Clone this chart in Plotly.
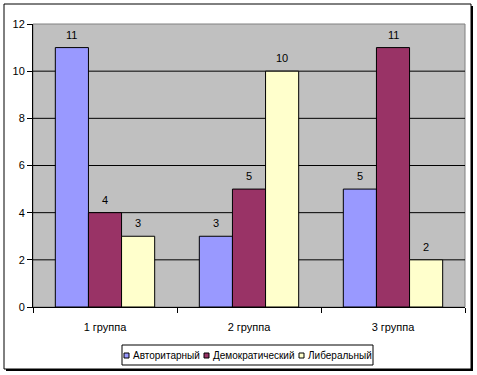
import plotly.graph_objects as go

categories = ["1 группа", "2 группа", "3 группа"]
series_names = ["Авторитарный", "Демократический", "Либеральный"]
avtoritarny = [11, 3, 5]
demokratichesky = [4, 5, 11]
liberalny = [3, 10, 2]
colors = ["#9999FF", "#993366", "#FFFFCC"]
y_ticks = [0, 2, 4, 6, 8, 10, 12]

W, H = 477, 375
L, R, T, B = 33, 12, 24, 68
pw, ph = W - L - R, H - T - B

def px(x):
    return (x - L) / pw

def py(y):
    return (H - B - y) / ph

bar_w = 0.23
offsets = [-1.5 * bar_w, -0.5 * bar_w, 0.5 * bar_w]

fig = go.Figure()
annotations = []
all_series = [avtoritarny, demokratichesky, liberalny]
for name, vals, col, off in zip(series_names, all_series, colors, offsets):
    fig.add_trace(go.Bar(
        x=categories, y=vals, name=name, width=bar_w, offset=off,
        marker=dict(color=col, line=dict(color="black", width=1)),
        showlegend=False,
    ))
    for i, v in enumerate(vals):
        annotations.append(dict(
            x=i + off + bar_w / 2, y=v, xref="x", yref="y", text=str(v),
            showarrow=False, yanchor="bottom", yshift=5,
            font=dict(size=11, color="black"),
        ))

shapes = [
    # outer frame with shadow
    dict(type="rect", xref="paper", yref="paper", x0=px(6), x1=px(473), y0=py(371), y1=py(6),
         line=dict(width=0), fillcolor="black", layer="below"),
    dict(type="rect", xref="paper", yref="paper", x0=px(4), x1=px(471), y0=py(369), y1=py(4),
         line=dict(color="black", width=1), fillcolor="white", layer="below"),
    # plot area
    dict(type="rect", xref="paper", yref="paper", x0=0, x1=1, y0=0, y1=1,
         line=dict(color="#808080", width=1), fillcolor="#C0C0C0", layer="below"),
]
for t in y_ticks[1:-1]:
    shapes.append(dict(type="line", xref="paper", yref="y", x0=0, x1=1, y0=t, y1=t,
                       line=dict(color="black", width=1), layer="below"))

# legend box (drawn manually, Excel style)
leg_x0, leg_x1, leg_y0, leg_y1 = 122, 373, 345, 365
shapes.append(dict(type="rect", xref="paper", yref="paper", x0=px(leg_x0), x1=px(leg_x1),
                   y0=py(leg_y1), y1=py(leg_y0), line=dict(color="black", width=1),
                   fillcolor="white"))
sq_x = [124, 204, 299]
txt_x = [131, 211, 306]
yc = (leg_y0 + leg_y1) / 2
for name, col, sx, tx in zip(series_names, colors, sq_x, txt_x):
    shapes.append(dict(type="rect", xref="paper", yref="paper", x0=px(sx), x1=px(sx + 5),
                       y0=py(yc + 3), y1=py(yc - 2), line=dict(color="black", width=1),
                       fillcolor=col))
    annotations.append(dict(x=px(tx), y=py(yc), xref="paper", yref="paper", text=name,
                            showarrow=False, xanchor="left", yanchor="middle",
                            font=dict(size=10, color="black")))

fig.update_layout(
    width=W, height=H,
    margin=dict(l=L, r=R, t=T, b=B, autoexpand=False),
    paper_bgcolor="white",
    plot_bgcolor="rgba(0,0,0,0)",
    font=dict(family="Liberation Sans, Arial, sans-serif", size=11, color="black"),
    barmode="overlay",
    showlegend=False,
    xaxis=dict(showline=True, linecolor="black", linewidth=1, ticks="outside",
               tickson="boundaries", ticklen=5, tickcolor="black", showgrid=False,
               tickfont=dict(size=11), ticklabelstandoff=10, range=[-0.5, 2.5]),
    yaxis=dict(range=[0, 12], tickvals=y_ticks, showline=True, linecolor="black",
               linewidth=1, ticks="outside", ticklen=5, tickcolor="black",
               showgrid=False, zeroline=False, tickfont=dict(size=11)),
    shapes=shapes,
    annotations=annotations,
)

fig.write_html("out.html", config={"displayModeBar": False},
               post_script="document.body.style.margin='0';document.body.style.padding='0';")
